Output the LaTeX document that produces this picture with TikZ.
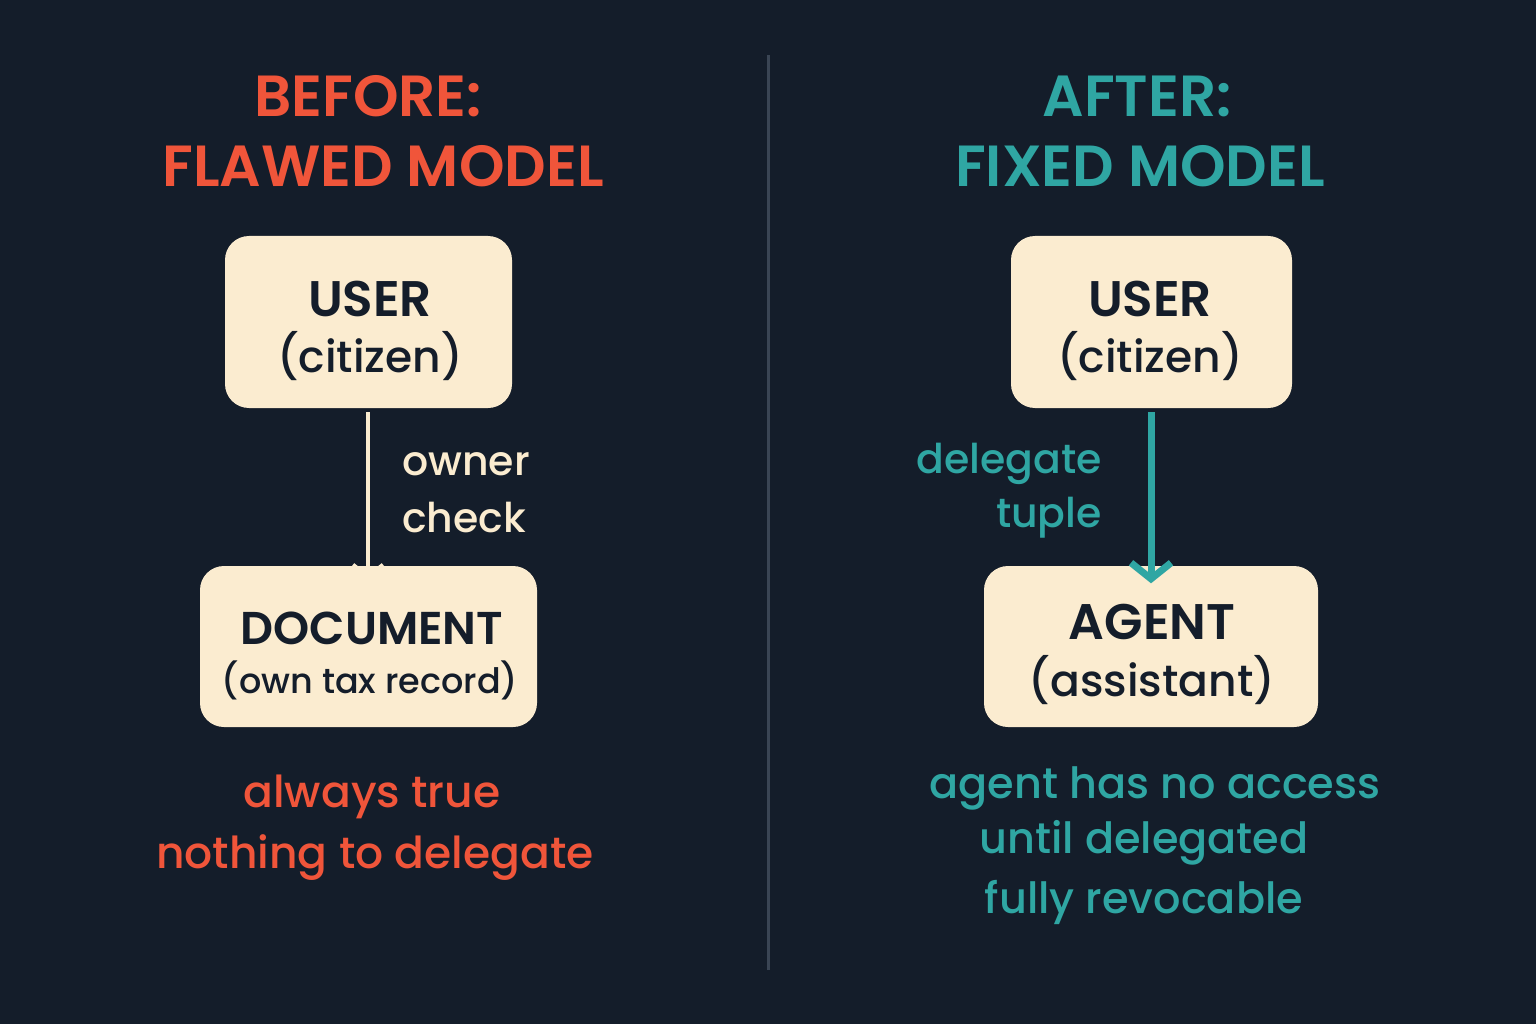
\documentclass[tikz,border=0pt]{standalone}
\usepackage{fontspec}
\setmainfont{Poppins}[UprightFont=*-Medium,BoldFont=*-SemiBold]
\usetikzlibrary{arrows.meta}
\definecolor{bg}{HTML}{141D2A}
\definecolor{red}{HTML}{F0553A}
\definecolor{teal}{HTML}{2FA6A3}
\definecolor{cream}{HTML}{FBECD0}
\definecolor{divc}{HTML}{3A4554}
\begin{document}
\begin{tikzpicture}[x=1pt,y=-1pt,
  box/.style={fill=cream,rounded corners=24pt,draw=none},
  t/.style={inner sep=0pt,anchor=center},
  fs/.style={font=\fontsize{#1}{#1}\selectfont},
  fb/.style={font=\bfseries\fontsize{#1}{#1}\selectfont}]
\fill[bg] (0,0) rectangle (1536,1024);
\useasboundingbox (0,0) rectangle (1536,1024);
\draw[divc,line width=3pt] (768,55) coordinate (d1) -- (768,970) coordinate (d2);
% left
\node[t,red,fb=58] (bt) at (368,96) {BEFORE:};
\node[t,red,fb=58] (ft) at (383,166) {FLAWED MODEL};
\fill[box] (225,236) rectangle (512,408);
\node (u1) at (368,322) [minimum width=287pt,minimum height=172pt] {};
\node[t,bg,fb=50] at (370,299) {USER};
\node[t,bg,fs=44] at (370,356) {(citizen)};
\fill[box] (200,566) rectangle (537,727);
\node (doc) at (368,646) [minimum width=337pt,minimum height=161pt] {};
\node[t,bg,fb=46] at (372,628) {DOCUMENT};
\node[t,bg,fs=35] at (370,680) {(own tax record)};
\draw[cream,line width=4pt,-{Straight Barb[length=12pt,width=30pt,line width=4pt]}] (u1.south) ++(0,4) -- ([yshift=-14pt]doc.north);
\node[t,cream,fs=41,anchor=west] at (402,464) {owner};
\node[t,cream,fs=41,anchor=west] at (402,518) {check};
\node[t,red,fs=44] at (372,797) {always true};
\node[t,red,fs=44] at (375,858) {nothing to delegate};
% right
\node[t,teal,fb=58] at (1137,96) {AFTER:};
\node[t,teal,fb=58] at (1140,166) {FIXED MODEL};
\fill[box] (1011,236) rectangle (1292,408);
\node (u2) at (1151,322) [minimum width=281pt,minimum height=172pt] {};
\node[t,bg,fb=50] at (1150,299) {USER};
\node[t,bg,fs=44] at (1150,356) {(citizen)};
\fill[box] (984,566) rectangle (1318,727);
\node (ag) at (1151,646) [minimum width=334pt,minimum height=161pt] {};
\node[t,bg,fb=50] at (1152,622) {AGENT};
\node[t,bg,fs=44] at (1152,680) {(assistant)};
\draw[teal,line width=7pt,-{Straight Barb[length=16pt,width=40pt,line width=7pt]}] (u2.south) ++(0,4) -- ([yshift=-18pt]ag.north);
\node[t,teal,fs=41,anchor=east] at (1102,464) {delegate};
\node[t,teal,fs=41,anchor=east] at (1102,518) {tuple};
\node[t,teal,fs=43] at (1155,788) {agent has no access};
\node[t,teal,fs=43] at (1144,843) {until delegated};
\node[t,teal,fs=43] at (1144,902) {fully revocable};
\end{tikzpicture}
\end{document}
